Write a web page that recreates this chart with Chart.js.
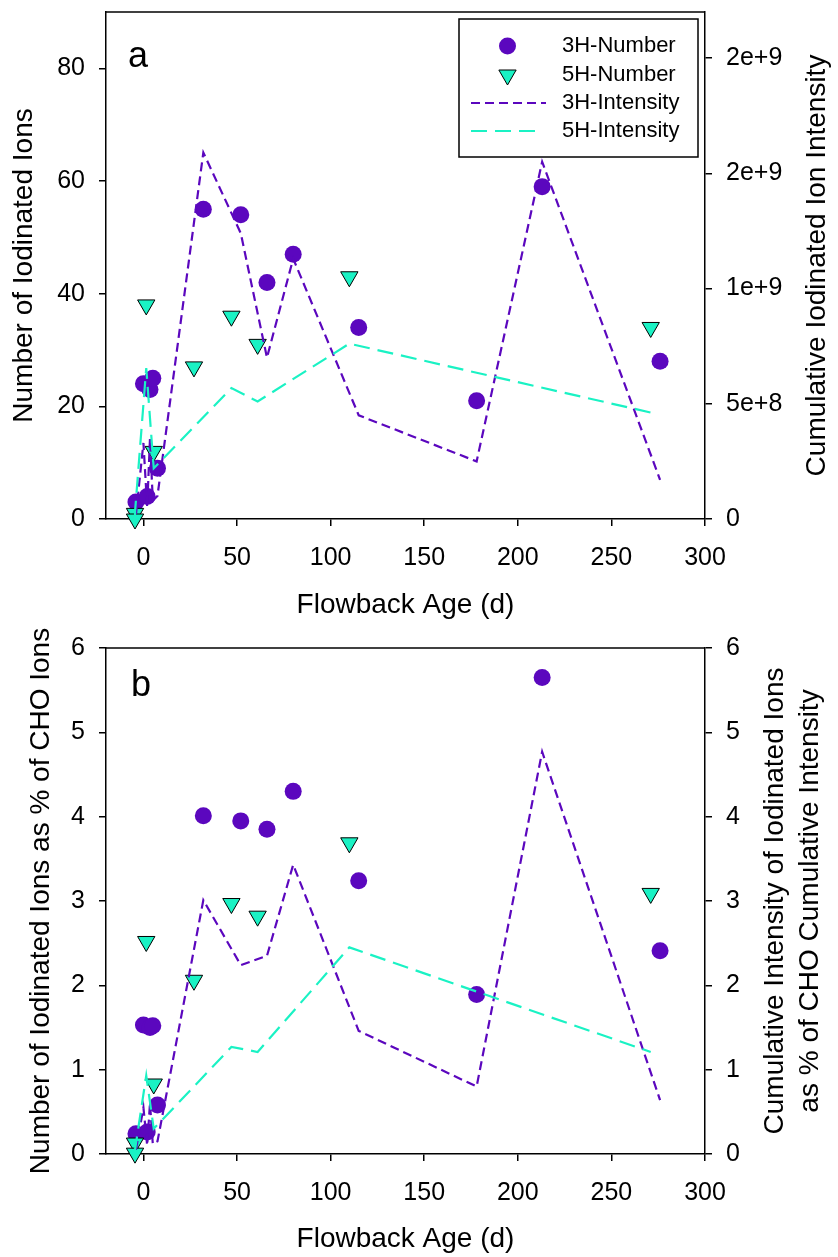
<!DOCTYPE html>
<html>
<head>
<meta charset="utf-8">
<script src="https://cdn.jsdelivr.net/npm/chart.js@4.4.0/dist/chart.umd.min.js"></script>
<style>
  html, body { margin: 0; padding: 0; background: #fff; }
  #wrap { position: relative; width: 838px; height: 1257px; overflow: hidden; }
  .panel { position: absolute; left: 0; width: 838px; }
  #panelA { top: -17px; height: 647px; }
  #panelB { top: 619px; height: 638px; }
</style>
</head>
<body>
<div id="wrap">
  <div class="panel" id="panelA"><canvas id="chartA" width="838" height="647"></canvas></div>
  <div class="panel" id="panelB"><canvas id="chartB" width="838" height="638"></canvas></div>
</div>
<script>
// flowback ages (d) of the samples
const ages3H = [-4, 0, 2, 3.5, 5, 7.5, 32, 52, 66, 80, 115, 178, 213, 276];
const ages5H = [-4.5, -4.5, 1.5, 5.5, 27, 47, 61, 110, 271];

// panel a: counts (left axis) and cumulative intensity (right axis)
const numA3H = [3, 24, 4, 23, 25, 9, 55, 54, 42, 47, 34, 21, 59, 28];
const numA5H = [1, 0, 38, 12, 27, 36, 31, 43, 34];
const intA3H = [0.02e9, 0.33e9, 0.05e9, 0.35e9, 0.08e9, 0.10e9, 1.59e9, 1.24e9, 0.70e9, 1.13e9, 0.45e9, 0.25e9, 1.55e9, 0.17e9];
const intA5H = [0.01e9, 0.03e9, 0.655e9, 0.22e9, 0.40e9, 0.568e9, 0.51e9, 0.761e9, 0.462e9];

// panel b: % of CHO ions (left) and % of CHO cumulative intensity (right)
const pctB3H = [0.24, 1.53, 0.26, 1.50, 1.52, 0.58, 4.01, 3.95, 3.85, 4.30, 3.24, 1.89, 5.65, 2.41];
const pctB5H = [0.13, 0.01, 2.52, 0.83, 2.06, 2.97, 2.82, 3.69, 3.09];
const intB3H = [0.05, 0.55, 0.10, 0.60, 0.12, 0.15, 3.01, 2.24, 2.35, 3.43, 1.46, 0.80, 4.77, 0.64];
const intB5H = [0.02, 0.05, 0.93, 0.30, 0.80, 1.27, 1.21, 2.45, 1.21];

// ticks
const xTicks = [0, 50, 100, 150, 200, 250, 300];
const aLeftTicks = [0, 20, 40, 60, 80];
const aRightTicks = [0, 5e8, 1e9, 1.5e9, 2e9];
const aRightLabels = ['0', '5e+8', '1e+9', '2e+9', '2e+9'];
const bTicks = [0, 1, 2, 3, 4, 5, 6];

const PURPLE = '#5b07be';
const CYAN = '#1af2c4';
const FONT = "'Liberation Sans', Arial, sans-serif";

Chart.defaults.font.family = FONT;
Chart.defaults.color = '#000';

function toXY(xs, ys) {
    return xs.map((x, i) => ({ x: x, y: ys[i] }));
}

function useTicks(values) {
    return scale => { scale.ticks = values.map(v => ({ value: v })); };
}

const axisGrid = { drawOnChartArea: false, tickLength: 7, color: '#000', lineWidth: 1.5 };
const axisBorder = { color: '#000', width: 1.5 };

// top edge of the frame, plus panel letter, right title and legend
const extras = {
    id: 'extras',
    beforeDatasetsDraw(chart) {
        const a = chart.chartArea, ctx = chart.ctx;
        ctx.save();
        ctx.strokeStyle = '#000';
        ctx.lineWidth = 1.5;
        ctx.beginPath();
        ctx.moveTo(a.left, a.top);
        ctx.lineTo(a.right, a.top);
        ctx.stroke();
        ctx.restore();
    },
    afterDraw(chart, args, o) {
        const a = chart.chartArea, ctx = chart.ctx;
        ctx.save();
        ctx.fillStyle = '#000';

        ctx.font = '36px ' + FONT;
        ctx.textBaseline = 'alphabetic';
        ctx.textAlign = 'left';
        ctx.fillText(o.letter, a.left + o.letterX, a.top + o.letterY);

        ctx.font = '28px ' + FONT;
        ctx.textAlign = 'center';
        ctx.textBaseline = 'middle';
        o.rightTitle.forEach((line, i) => {
            ctx.save();
            ctx.translate(o.rightTitleX[i], (a.top + a.bottom) / 2);
            ctx.rotate(-Math.PI / 2);
            ctx.fillText(line, 0, 0);
            ctx.restore();
        });

        if (o.legend) {
            const w = 239, h = 138;
            const x0 = a.right - 7 - w, y0 = a.top + 7;
            ctx.lineWidth = 1.5;
            ctx.strokeStyle = '#000';
            ctx.strokeRect(x0, y0, w, h);
            const rows = [27, 56, 84, 112];
            const cx = x0 + 48.5;

            ctx.beginPath();
            ctx.arc(cx, y0 + rows[0], 8.5, 0, Math.PI * 2);
            ctx.fillStyle = PURPLE;
            ctx.fill();

            const r = 10, ty = y0 + rows[1];
            ctx.beginPath();
            ctx.moveTo(cx, ty + r);
            ctx.lineTo(cx - r * 0.866, ty - r / 2);
            ctx.lineTo(cx + r * 0.866, ty - r / 2);
            ctx.closePath();
            ctx.fillStyle = CYAN;
            ctx.fill();
            ctx.lineWidth = 1;
            ctx.stroke();

            ctx.lineWidth = 2.2;
            ctx.setLineDash([9, 5]);
            ctx.strokeStyle = PURPLE;
            ctx.beginPath();
            ctx.moveTo(x0 + 12, y0 + rows[2]);
            ctx.lineTo(x0 + 87, y0 + rows[2]);
            ctx.stroke();

            ctx.setLineDash([16, 8]);
            ctx.strokeStyle = CYAN;
            ctx.beginPath();
            ctx.moveTo(x0 + 12, y0 + rows[3]);
            ctx.lineTo(x0 + 79, y0 + rows[3]);
            ctx.stroke();
            ctx.setLineDash([]);

            ctx.fillStyle = '#000';
            ctx.font = '22px ' + FONT;
            ctx.textAlign = 'left';
            ['3H-Number', '5H-Number', '3H-Intensity', '5H-Intensity'].forEach((t, i) => {
                ctx.fillText(t, x0 + 103, y0 + rows[i]);
            });
        }
        ctx.restore();
    }
};

function makePanel(canvas, p) {
    return new Chart(canvas, {
        type: 'scatter',
        data: {
            datasets: [
                {
                    label: '5H-Intensity', data: toXY(ages5H, p.int5), yAxisID: 'y2',
                    showLine: true, borderColor: CYAN, borderWidth: 2.2, borderDash: [16, 8],
                    pointRadius: 0, clip: false
                },
                {
                    label: '3H-Intensity', data: toXY(ages3H, p.int3), yAxisID: 'y2',
                    showLine: true, borderColor: PURPLE, borderWidth: 2.2, borderDash: [9, 5],
                    pointRadius: 0, clip: false
                },
                {
                    label: '5H-Number', data: toXY(ages5H, p.num5), yAxisID: 'y',
                    pointStyle: 'triangle', pointRotation: 180, pointRadius: 10,
                    pointBackgroundColor: CYAN, pointBorderColor: '#000', pointBorderWidth: 1, clip: false
                },
                {
                    label: '3H-Number', data: toXY(ages3H, p.num3), yAxisID: 'y',
                    pointStyle: 'circle', pointRadius: 8.5,
                    pointBackgroundColor: PURPLE, pointBorderWidth: 0, clip: false
                }
            ]
        },
        options: {
            responsive: false,
            animation: false,
            events: [],
            layout: { padding: { top: p.padTop, left: 0, right: 0, bottom: 0 } },
            plugins: {
                legend: { display: false },
                tooltip: { enabled: false },
                extras: p.extras
            },
            scales: {
                x: {
                    type: 'linear', min: -20, max: 300,
                    afterBuildTicks: useTicks(xTicks),
                    afterFit: s => { s.height = p.xHeight; },
                    grid: axisGrid, border: axisBorder,
                    ticks: { font: { size: 25 }, padding: 17, maxRotation: 0 },
                    title: { display: true, text: 'Flowback Age (d)', font: { size: 28 }, padding: { top: 0, bottom: p.xTitlePad } }
                },
                y: {
                    position: 'left', min: 0, max: p.yMax,
                    afterBuildTicks: useTicks(p.yTicks),
                    afterFit: s => { s.width = 106; },
                    grid: axisGrid, border: axisBorder,
                    ticks: { font: { size: 25 }, padding: 14 },
                    title: { display: true, text: p.yTitle, font: { size: 28 }, padding: { top: p.yTitlePad, bottom: 0 } }
                },
                y2: {
                    position: 'right', min: 0, max: p.y2Max,
                    afterBuildTicks: useTicks(p.y2Ticks),
                    afterFit: s => { s.width = 133; },
                    grid: axisGrid, border: axisBorder,
                    ticks: { font: { size: 25 }, padding: 14, callback: (v, i) => p.y2Labels[i] }
                }
            }
        },
        plugins: [extras]
    });
}

makePanel(document.getElementById('chartA'), {
    num3: numA3H, num5: numA5H, int3: intA3H, int5: intA5H,
    padTop: 28, xHeight: 111, xTitlePad: 8,
    yMax: 90, yTicks: aLeftTicks, yTitle: 'Number of Iodinated Ions', yTitlePad: 7,
    y2Max: 2.2e9, y2Ticks: aRightTicks, y2Labels: aRightLabels,
    extras: { letter: 'a', letterX: 22, letterY: 55, rightTitle: ['Cumulative Iodinated Ion Intensity'], rightTitleX: [817], legend: true }
});

makePanel(document.getElementById('chartB'), {
    num3: pctB3H, num5: pctB5H, int3: intB3H, int5: intB5H,
    padTop: 28, xHeight: 103, xTitlePad: 1,
    yMax: 6, yTicks: bTicks, yTitle: 'Number of Iodinated Ions as % of CHO Ions', yTitlePad: 24,
    y2Max: 6, y2Ticks: bTicks, y2Labels: bTicks.map(String),
    extras: { letter: 'b', letterX: 25, letterY: 48, rightTitle: ['Cumulative Intensity of Iodinated Ions', 'as % of CHO Cumulative Intensity'], rightTitleX: [775, 810], legend: false }
});
</script>
</body>
</html>
